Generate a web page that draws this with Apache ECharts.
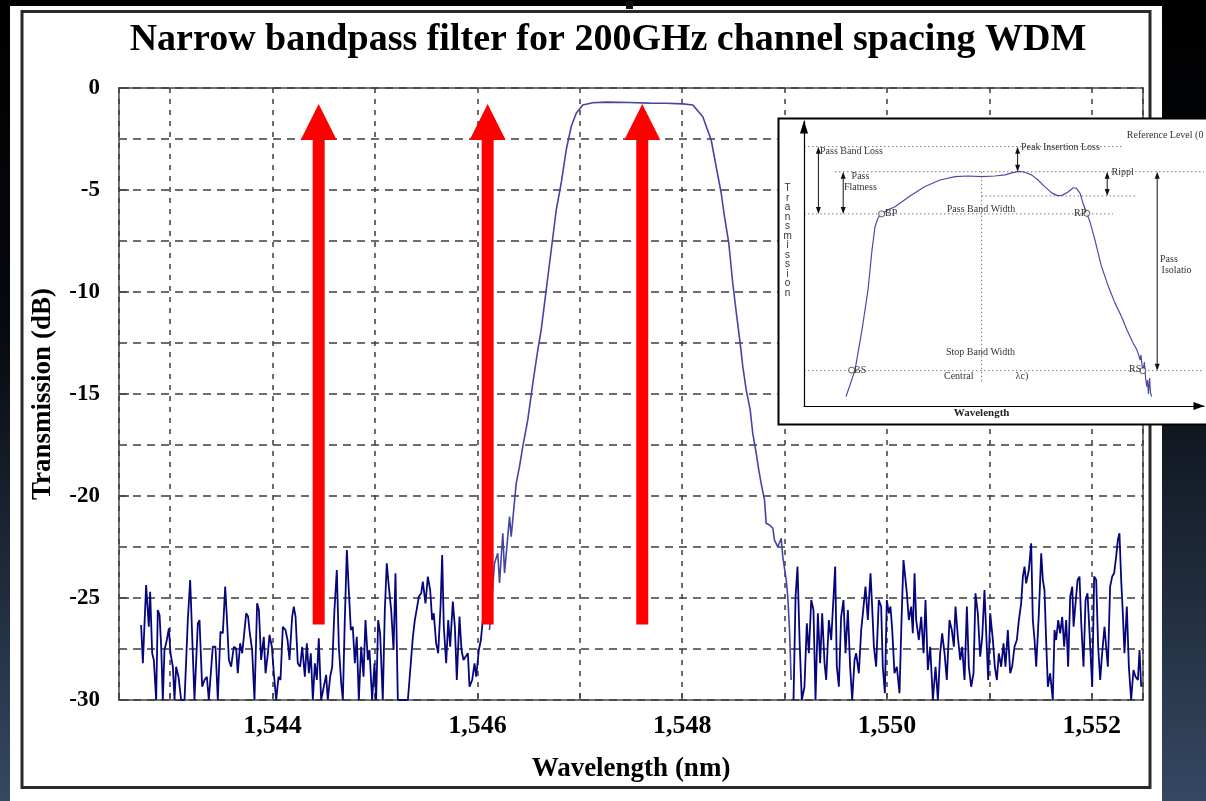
<!DOCTYPE html>
<html>
<head>
<meta charset="utf-8">
<title>Narrow bandpass filter for 200GHz channel spacing WDM</title>
<script src="https://cdn.jsdelivr.net/npm/echarts@6/dist/echarts.min.js"></script>
<style>
  html, body { margin: 0; padding: 0; background: #000; }
  #chart { width: 1206px; height: 801px; }
</style>
</head>
<body>
<div id="chart"></div>
<script>
  // measured trace: wavelength (nm) / transmission (dB)
  const leftNoiseWl = [1542.716, 1542.733, 1542.765, 1542.791, 1542.804, 1542.824, 1542.840, 1542.863, 1542.879, 1542.896,
    1542.912, 1542.928, 1542.944, 1542.967, 1542.987, 1543.003, 1543.026, 1543.042, 1543.058, 1543.081,
    1543.107, 1543.140, 1543.172, 1543.195, 1543.215, 1543.237, 1543.270, 1543.286, 1543.312, 1543.335,
    1543.358, 1543.377, 1543.416, 1543.442, 1543.465, 1543.491, 1543.514, 1543.537, 1543.553, 1543.573,
    1543.595, 1543.621, 1543.644, 1543.660, 1543.683, 1543.703, 1543.726, 1543.742, 1543.761, 1543.774,
    1543.800, 1543.823, 1543.849, 1543.866, 1543.888, 1543.914, 1543.931, 1543.954, 1543.970, 1543.993,
    1544.012, 1544.035, 1544.058, 1544.077, 1544.100, 1544.126, 1544.146, 1544.165, 1544.191, 1544.207,
    1544.224, 1544.246, 1544.269, 1544.289, 1544.315, 1544.334, 1544.354, 1544.373, 1544.393, 1544.413,
    1544.432, 1544.451, 1544.474, 1544.523, 1544.539, 1544.562, 1544.582, 1544.604, 1544.627, 1544.647,
    1544.670, 1544.686, 1544.705, 1544.725, 1544.744, 1544.764, 1544.783, 1544.803, 1544.822, 1544.842,
    1544.865, 1544.888, 1544.907, 1544.930, 1544.946, 1544.972, 1544.995, 1545.011, 1545.031, 1545.050,
    1545.076, 1545.096, 1545.115, 1545.135, 1545.158, 1545.181, 1545.200, 1545.223, 1545.272, 1545.321,
    1545.370, 1545.389, 1545.409, 1545.428, 1545.451, 1545.467, 1545.493, 1545.516, 1545.539, 1545.558,
    1545.574, 1545.597, 1545.617, 1545.640, 1545.656, 1545.672, 1545.695, 1545.715, 1545.734, 1545.760,
    1545.780, 1545.799, 1545.825, 1545.845, 1545.864, 1545.884, 1545.907, 1545.923, 1545.949, 1545.972,
    1545.988, 1546.014, 1546.034, 1546.053];
  const leftNoiseDb = [-26.32, -28.20, -24.36, -26.41, -24.69, -27.71, -28.04, -30, -25.59, -25.83,
    -27.39, -30, -27.55, -27.06, -26.49, -27.71, -28.37, -30, -28.37, -28.86,
    -30, -30, -26.08, -24.12, -26.90, -30, -26.24, -26.08, -29.35, -29.02,
    -28.86, -30, -27.39, -27.39, -30, -26.65, -26.73, -24.44, -25.91, -28.04,
    -28.37, -27.39, -27.47, -28.69, -27.22, -27.71, -26.57, -25.75, -25.91, -26.57,
    -27.55, -30, -25.26, -25.59, -28.04, -26.90, -28.69, -27.71, -26.81, -27.39,
    -28.69, -30, -28.86, -29.02, -26.41, -26.57, -27.06, -28.04, -25.91, -25.42,
    -25.91, -28.20, -28.37, -27.39, -28.86, -27.22, -28.69, -27.71, -30, -28.20,
    -29.02, -26.98, -30, -28.77, -30, -28.86, -28.37, -25.59, -23.63, -27.39,
    -29.18, -30, -26.08, -22.65, -24.61, -26.57, -26.41, -28.20, -26.90, -30,
    -27.39, -28.86, -26.08, -28.04, -27.55, -30, -28.20, -30, -26.08, -26.73,
    -30, -25.59, -23.30, -24.44, -25.59, -27.55, -23.79, -30, -30, -30,
    -26.90, -26.08, -25.51, -24.93, -24.77, -24.20, -25.26, -23.95, -24.61, -26.08,
    -25.75, -27.22, -27.71, -25.42, -22.89, -26.41, -28.20, -26.08, -27.39, -25.18,
    -26.41, -29.02, -25.91, -27.55, -28.04, -27.88, -27.71, -29.35, -29.02, -28.20,
    -28.86, -27.55, -27.06, -26.08];

  const passWl = [1546.118, 1546.167, 1546.199, 1546.216, 1546.248, 1546.265, 1546.314, 1546.330, 1546.379, 1546.411,
    1546.443, 1546.492, 1546.541, 1546.590, 1546.623, 1546.672, 1546.721, 1546.770, 1546.818, 1546.867,
    1546.916, 1546.965, 1547.029, 1547.127, 1547.258, 1547.485, 1547.681, 1547.844, 1548.006, 1548.104,
    1548.201, 1548.283, 1548.332, 1548.381, 1548.413, 1548.455, 1548.494, 1548.533, 1548.566, 1548.592,
    1548.625, 1548.664, 1548.689, 1548.723, 1548.748, 1548.771, 1548.804, 1548.820, 1548.853, 1548.885,
    1548.901, 1548.934, 1548.967, 1548.982, 1549.016, 1549.031, 1549.048, 1549.064];
  const passDb = [-26.57, -23.30, -22.81, -24.26, -21.83, -23.77, -21.01, -22.00, -19.38, -18.56,
    -17.58, -16.27, -14.48, -12.84, -11.86, -9.90, -7.94, -5.98, -4.67, -3.04,
    -1.90, -1.24, -0.83, -0.72, -0.69, -0.71, -0.74, -0.75, -0.78, -0.83,
    -1.41, -2.55, -3.86, -5.16, -6.31, -7.61, -9.57, -11.21, -12.51, -13.66,
    -14.80, -15.78, -16.93, -17.91, -18.73, -19.38, -20.20, -21.34, -21.42, -21.58,
    -22.16, -22.49, -22.07, -22.97, -24.12, -24.94, -26.57, -29.02];

  const rightNoiseWl = [1549.087, 1549.107, 1549.126, 1549.146, 1549.168, 1549.194, 1549.217, 1549.237, 1549.260, 1549.282,
    1549.302, 1549.325, 1549.347, 1549.367, 1549.390, 1549.406, 1549.432, 1549.455, 1549.478, 1549.494,
    1549.510, 1549.530, 1549.552, 1549.575, 1549.595, 1549.618, 1549.640, 1549.660, 1549.683, 1549.699,
    1549.725, 1549.748, 1549.771, 1549.790, 1549.813, 1549.839, 1549.855, 1549.872, 1549.894, 1549.920,
    1549.943, 1549.959, 1549.979, 1549.998, 1550.018, 1550.034, 1550.051, 1550.073, 1550.096, 1550.122,
    1550.142, 1550.161, 1550.181, 1550.194, 1550.213, 1550.236, 1550.252, 1550.269, 1550.285, 1550.311,
    1550.334, 1550.357, 1550.376, 1550.399, 1550.422, 1550.448, 1550.474, 1550.497, 1550.519, 1550.539,
    1550.562, 1550.584, 1550.610, 1550.633, 1550.653, 1550.669, 1550.692, 1550.715, 1550.734, 1550.757,
    1550.780, 1550.799, 1550.822, 1550.845, 1550.864, 1550.887, 1550.910, 1550.930, 1550.952, 1550.969,
    1550.988, 1551.008, 1551.034, 1551.053, 1551.073, 1551.092, 1551.115, 1551.138, 1551.157, 1551.180,
    1551.203, 1551.222, 1551.245, 1551.268, 1551.288, 1551.310, 1551.327, 1551.343, 1551.359, 1551.385,
    1551.408, 1551.424, 1551.441, 1551.457, 1551.483, 1551.506, 1551.522, 1551.538, 1551.554, 1551.571,
    1551.593, 1551.619, 1551.636, 1551.652, 1551.672, 1551.691, 1551.711, 1551.730, 1551.750, 1551.769,
    1551.789, 1551.809, 1551.822, 1551.841, 1551.861, 1551.880, 1551.897, 1551.919, 1551.939, 1551.958,
    1551.978, 1552.004, 1552.023, 1552.043, 1552.062, 1552.082, 1552.101, 1552.124, 1552.140, 1552.157,
    1552.179, 1552.199, 1552.218, 1552.238, 1552.254, 1552.270, 1552.287, 1552.303, 1552.319, 1552.342,
    1552.362, 1552.384, 1552.407, 1552.427, 1552.450, 1552.466, 1552.482];
  const rightNoiseDb = [-30, -24.93, -23.46, -27.06, -30, -29.35, -26.24, -27.71, -25.10, -25.59,
    -30, -25.75, -28.20, -25.75, -28.20, -29.02, -26.08, -27.06, -24.93, -23.46,
    -28.37, -29.35, -25.92, -25.10, -27.71, -25.59, -28.37, -30, -28.04, -27.71,
    -28.69, -26.57, -25.42, -24.44, -26.08, -23.79, -25.42, -27.39, -28.37, -25.10,
    -25.42, -28.37, -29.67, -25.10, -25.75, -25.42, -26.57, -28.69, -28.37, -29.67,
    -26.08, -23.14, -24.12, -24.77, -26.08, -25.42, -26.73, -23.79, -26.08, -27.06,
    -25.92, -27.71, -25.10, -28.53, -27.39, -30, -28.37, -30, -27.71, -26.73,
    -27.71, -29.02, -26.08, -26.57, -27.39, -25.42, -26.90, -28.04, -27.39, -29.02,
    -25.42, -28.37, -29.35, -28.69, -24.77, -25.75, -27.88, -26.90, -24.61, -26.73,
    -29.02, -25.75, -27.06, -28.37, -29.02, -27.71, -28.37, -27.22, -28.37, -26.57,
    -28.69, -28.37, -27.39, -27.06, -26.08, -25.26, -23.95, -23.46, -24.28, -23.63,
    -22.32, -26.08, -27.06, -28.37, -25.75, -22.81, -24.12, -24.61, -27.06, -29.35,
    -28.69, -30, -26.57, -27.06, -26.08, -26.73, -25.92, -27.39, -26.08, -28.37,
    -24.93, -24.44, -26.41, -25.26, -24.12, -23.95, -26.24, -28.37, -25.10, -24.77,
    -26.73, -29.35, -23.95, -24.12, -27.39, -29.02, -27.71, -26.41, -27.39, -28.37,
    -24.44, -23.95, -23.79, -22.97, -22.16, -21.83, -24.12, -25.75, -27.71, -25.42,
    -28.37, -30, -28.53, -28.86, -29.02, -27.55, -29.35];

  // red arrows: wavelength, foot and tip (dB)
  const arrowWl = [1544.45, 1546.10, 1547.61];
  const arrowFrom = [-26.3, -26.3, -26.3];
  const arrowTo = [-0.78, -0.78, -0.78];

  const xLabelValues = [1544, 1546, 1548, 1550, 1552];

  // inset sketch, relative units 0..100
  const insetX = [10.5, 11.5, 12.75, 14.5, 16, 17, 17.75, 18.5, 19.4, 21, 22.75, 26.5, 30.25, 34, 37.75, 41, 44.4, 47.75,
    50.25, 52, 53.6, 55, 56.9, 58.5, 60.25, 62, 63.4, 64.5, 66, 67.25, 68, 69, 69.9, 70.7, 71.5, 72.75, 74.25,
    76.1, 77.75, 79.4, 80.75, 82.3, 83.25, 83.75, 84, 84.25, 84.5, 84.8, 85.1, 85.4, 85.7, 85.9, 86.1, 86.4, 86.6, 86.9];
  const insetY = [3.3, 7.4, 12.6, 26.7, 40.7, 54.7, 62.9, 66, 67.4, 68.8, 69.9, 73.7, 77, 79.3, 80.5, 80.7, 80.5, 80.7,
    81.1, 81.8, 82.3, 82.1, 81.1, 79.3, 76.9, 74.7, 73.8, 73.9, 75.1, 76.5, 76.5, 74.7, 70.5, 67.6, 64.6, 58.2, 49.5,
    41.9, 36.1, 31.3, 26.7, 22, 19.6, 17.5, 16.1, 17.9, 14.4, 12.6, 15.4, 9.8, 6.8, 9.1, 4.2, 9.8, 4.9, 3.3];
  const insetGuides = [[0, 91, 80, 91], [7.75, 82.2, 100, 82.2], [44.4, 73.7, 83.2, 73.7],
    [0, 67.4, 77.25, 67.4], [0, 12.4, 100, 12.4], [44.4, 82.2, 44.4, 8.5]];
  const insetSpans = [[3.6, 91, 67.4], [9.8, 82.2, 67.4], [53.4, 91, 82.2], [75.8, 82.2, 73.7], [88.3, 82.2, 12.4]];
  const insetPoints = [[19.4, 67.4], [70.7, 67.6], [11.9, 12.6], [84.7, 12.4]];
  const noteText = ['Reference Level (0', 'Pass Band Loss', 'Pass', 'Flatness', 'Peak Insertion Loss', 'Rippl',
    'Pass Band Width', 'BP', 'RP', 'Pass', 'Isolatio', 'Stop Band Width', 'BS', 'RS', 'Central', 'λc)'];
  const noteX = [80.7, 4.0, 11.9, 10.0, 54.25, 76.9, 35.7, 20.25, 67.5, 89.0, 89.4, 35.5, 12.5, 81.25, 35.0, 52.9];
  const noteY = [95.1, 89.5, 80.5, 76.7, 90.6, 81.9, 69.0, 67.7, 67.7, 51.5, 47.5, 18.7, 12.6, 13.0, 10.3, 10.3];
  const insetAxisTitles = ['Wavelength', 'Transmission'];
  const insetAxisTitleX = [44.4, -4.1];
  const insetAxisTitleY = [-2.5, 57.9];

  const zip = (a, b) => a.map((v, i) => [v, b[i]]);
  const serif = 'Liberation Serif';
  const gridLine = { color: '#3c3c3c', width: 1.5 };

  function fmtWl(v) {
    const n = Math.round(v);
    return Math.floor(n / 1000) + ',' + String(n % 1000).padStart(3, '0');
  }

  function drawArrow(params, api) {
    const foot = api.coord([api.value(0), api.value(1)]);
    const tip = api.coord([api.value(0), api.value(2)]);
    const x = foot[0], neck = tip[1] + 36;
    return {
      type: 'polygon',
      shape: { points: [[x - 6, foot[1]], [x - 6, neck], [x - 18, neck], [x, tip[1]], [x + 18, neck], [x + 6, neck], [x + 6, foot[1]]] },
      style: { fill: '#ff0000' }
    };
  }

  function drawGuide(params, api) {
    const a = api.coord([api.value(0), api.value(1)]);
    const b = api.coord([api.value(2), api.value(3)]);
    return {
      type: 'line',
      shape: { x1: a[0], y1: a[1], x2: b[0], y2: b[1] },
      style: { stroke: '#777', lineWidth: 1, lineDash: [1.5, 2.5] }
    };
  }

  function drawSpan(params, api) {
    const t = api.coord([api.value(0), api.value(1)]);
    const b = api.coord([api.value(0), api.value(2)]);
    return {
      type: 'group',
      children: [
        { type: 'line', shape: { x1: t[0], y1: t[1] + 5, x2: b[0], y2: b[1] - 5 }, style: { stroke: '#111', lineWidth: 1 } },
        { type: 'polygon', shape: { points: [[t[0], t[1]], [t[0] - 2.5, t[1] + 7], [t[0] + 2.5, t[1] + 7]] }, style: { fill: '#111' } },
        { type: 'polygon', shape: { points: [[b[0], b[1]], [b[0] - 2.5, b[1] - 7], [b[0] + 2.5, b[1] - 7]] }, style: { fill: '#111' } }
      ]
    };
  }

  function drawNote(params, api) {
    const p = api.coord([api.value(0), api.value(1)]);
    return {
      type: 'text', x: p[0], y: p[1],
      style: { text: noteText[params.dataIndex], font: '10px "Liberation Serif"', fill: '#333', align: 'left', verticalAlign: 'middle' }
    };
  }

  function drawAxisTitle(params, api) {
    const p = api.coord([api.value(0), api.value(1)]);
    const vertical = params.dataIndex === 1;
    const txt = insetAxisTitles[params.dataIndex];
    return {
      type: 'text', x: p[0], y: p[1],
      style: vertical
        ? { text: txt.split('').join('\n'), font: '10px "Liberation Sans"', lineHeight: 9.5, fill: '#333', align: 'center', verticalAlign: 'middle' }
        : { text: txt, font: 'bold 11px "Liberation Serif"', fill: '#222', align: 'center', verticalAlign: 'middle' }
    };
  }

  const option = {
    animation: false,
    backgroundColor: {
      type: 'linear', x: 0, y: 0, x2: 0, y2: 1,
      colorStops: [{ offset: 0, color: '#000000' }, { offset: 0.4, color: '#06090e' }, { offset: 1, color: '#354862' }]
    },
    graphic: [
      { type: 'rect', z: -10, shape: { x: 10, y: 6, width: 1152, height: 800 }, style: { fill: '#fff' } },
      { type: 'rect', z: -9, shape: { x: 22, y: 11.5, width: 1128, height: 776 }, style: { fill: 'none', stroke: '#2a2a2a', lineWidth: 3 } },
      { type: 'rect', z: -9, shape: { x: 626, y: 1, width: 7, height: 8 }, style: { fill: '#111' } },
      {
        type: 'text', z: 5, x: 608, y: 40,
        style: { text: 'Narrow bandpass filter for 200GHz channel spacing WDM', font: 'bold 38px "Liberation Serif"', fill: '#000', align: 'center', verticalAlign: 'middle' }
      },
      { type: 'rect', z: 10, shape: { x: 778.5, y: 118.5, width: 440, height: 306 }, style: { fill: '#fff', stroke: '#000', lineWidth: 2 } }
    ],
    grid: [
      { left: 119, top: 88, width: 1024, height: 612, show: true, borderColor: '#777', borderWidth: 2, backgroundColor: 'transparent' },
      { left: 804, top: 121, width: 400, height: 285, show: false }
    ],
    xAxis: [
      {
        type: 'value', gridIndex: 0, position: 'bottom', min: 1542.5, max: 1552.5, splitNumber: 10, minInterval: 1, maxInterval: 1,
        axisLine: { show: false, onZero: false },
        axisTick: { show: true, inside: true, length: 7, lineStyle: { color: '#444', width: 1.5 } },
        axisLabel: {
          margin: 13, fontFamily: serif, fontWeight: 'bold', fontSize: 26, color: '#000',
          formatter: v => (xLabelValues.some(t => Math.abs(t - v) < 1e-6) ? fmtWl(v) : '')
        },
        splitLine: { show: true, lineStyle: Object.assign({ type: [5, 6] }, gridLine) },
        name: 'Wavelength (nm)', nameLocation: 'middle', nameGap: 56,
        nameTextStyle: { fontFamily: serif, fontWeight: 'bold', fontSize: 27, color: '#000' }
      },
      {
        type: 'value', gridIndex: 1, min: 0, max: 100, z: 12,
        axisLine: { show: true, onZero: false, lineStyle: { color: '#000', width: 1.2 }, symbol: ['none', 'triangle'], symbolSize: [8, 11], symbolOffset: [0, -5] },
        axisTick: { show: false }, axisLabel: { show: false }, splitLine: { show: false }
      }
    ],
    yAxis: [
      {
        type: 'value', gridIndex: 0, position: 'left', min: -30, max: 0, interval: 5,
        axisLine: { show: false, onZero: false },
        axisTick: { show: true, inside: true, length: 10, lineStyle: { color: '#444', width: 1.5 } },
        minorTick: { show: false, splitNumber: 2 },
        minorSplitLine: { show: true, lineStyle: Object.assign({ type: [8, 6] }, gridLine) },
        axisLabel: { margin: 19, fontFamily: serif, fontWeight: 'bold', fontSize: 23, color: '#000' },
        splitLine: { show: true, lineStyle: Object.assign({ type: [8, 6] }, gridLine) },
        name: 'Transmission (dB)', nameLocation: 'middle', nameGap: 62,
        nameTextStyle: { fontFamily: serif, fontWeight: 'bold', fontSize: 27, color: '#000' }
      },
      {
        type: 'value', gridIndex: 1, min: 0, max: 100, z: 12,
        axisLine: { show: true, onZero: false, lineStyle: { color: '#000', width: 1.2 }, symbol: ['none', 'triangle'], symbolSize: [8, 13], symbolOffset: [0, -6] },
        axisTick: { show: false }, axisLabel: { show: false }, splitLine: { show: false }
      }
    ],
    series: [
      {
        name: 'left noise', type: 'line', xAxisIndex: 0, yAxisIndex: 0, z: 2, symbol: 'none',
        lineStyle: { color: '#06067c', width: 1.8 }, data: zip(leftNoiseWl, leftNoiseDb)
      },
      {
        name: 'passband', type: 'line', xAxisIndex: 0, yAxisIndex: 0, z: 2, symbol: 'none',
        lineStyle: { color: '#4444a6', width: 1.6 }, data: zip(passWl, passDb)
      },
      {
        name: 'right noise', type: 'line', xAxisIndex: 0, yAxisIndex: 0, z: 2, symbol: 'none',
        lineStyle: { color: '#06067c', width: 1.8 }, data: zip(rightNoiseWl, rightNoiseDb)
      },
      {
        name: 'arrows', type: 'custom', xAxisIndex: 0, yAxisIndex: 0, z: 3, renderItem: drawArrow,
        data: arrowWl.map((w, i) => [w, arrowFrom[i], arrowTo[i]])
      },
      {
        name: 'inset guides', type: 'custom', xAxisIndex: 1, yAxisIndex: 1, z: 11, renderItem: drawGuide,
        encode: { x: [0, 2], y: [1, 3] }, data: insetGuides
      },
      {
        name: 'inset curve', type: 'line', xAxisIndex: 1, yAxisIndex: 1, z: 12, symbol: 'none',
        lineStyle: { color: '#4a4aa8', width: 1.2 }, data: zip(insetX, insetY)
      },
      {
        name: 'inset spans', type: 'custom', xAxisIndex: 1, yAxisIndex: 1, z: 13, renderItem: drawSpan,
        encode: { x: 0, y: [1, 2] }, data: insetSpans
      },
      {
        name: 'inset points', type: 'scatter', xAxisIndex: 1, yAxisIndex: 1, z: 13, symbol: 'circle', symbolSize: 6,
        itemStyle: { color: '#fff', borderColor: '#333', borderWidth: 1 }, data: insetPoints
      },
      {
        name: 'inset notes', type: 'custom', xAxisIndex: 1, yAxisIndex: 1, z: 14, renderItem: drawNote,
        data: zip(noteX, noteY)
      },
      {
        name: 'inset axis titles', type: 'custom', xAxisIndex: 1, yAxisIndex: 1, z: 14, renderItem: drawAxisTitle,
        data: zip(insetAxisTitleX, insetAxisTitleY)
      }
    ]
  };

  var chartDom = document.getElementById('chart');
  var myChart = echarts.init(chartDom);
  myChart.setOption(option);
</script>
</body>
</html>
